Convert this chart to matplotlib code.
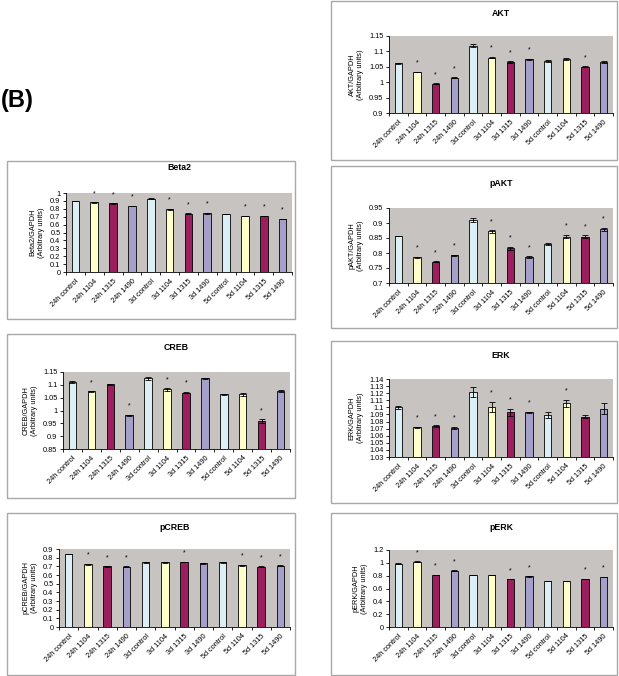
import matplotlib
matplotlib.use("Agg")
import matplotlib.pyplot as plt
from matplotlib.patches import Rectangle
import numpy as np

plt.rcParams['font.family'] = ['Liberation Sans', 'DejaVu Sans']

categories = ["24h control", "24h 1104", "24h 1315", "24h 1490",
              "3d control", "3d 1104", "3d 1315", "3d 1490",
              "5d control", "5d 1104", "5d 1315", "5d 1490"]

akt_vals = [1.061, 1.033, 0.995, 1.015, 1.119, 1.080, 1.065, 1.074, 1.070, 1.076, 1.050, 1.066]
akt_err = [0.001, 0.001, 0.002, 0.002, 0.004, 0.003, 0.004, 0.002, 0.003, 0.004, 0.002, 0.003]
akt_sig = [0, 1, 1, 1, 0, 1, 1, 1, 0, 0, 1, 0]

pakt_vals = [0.857, 0.786, 0.771, 0.792, 0.911, 0.872, 0.816, 0.787, 0.830, 0.855, 0.855, 0.880]
pakt_err = [0.001, 0.002, 0.001, 0.002, 0.006, 0.004, 0.005, 0.002, 0.002, 0.006, 0.004, 0.005]
pakt_sig = [0, 1, 1, 1, 0, 1, 1, 1, 0, 1, 1, 1]

erk_vals = [1.100, 1.072, 1.074, 1.071, 1.122, 1.101, 1.093, 1.093, 1.089, 1.106, 1.087, 1.098]
erk_err = [0.002, 0.001, 0.001, 0.002, 0.007, 0.007, 0.005, 0.001, 0.004, 0.005, 0.002, 0.008]
erk_sig = [0, 1, 1, 1, 0, 1, 1, 1, 0, 1, 0, 0]

perk_vals = [0.985, 1.020, 0.810, 0.875, 0.810, 0.810, 0.745, 0.790, 0.720, 0.720, 0.750, 0.780]
perk_err = [0.005, 0.005, 0.005, 0.006, 0.006, 0.004, 0.004, 0.005, 0.004, 0.004, 0.004, 0.006]
perk_sig = [0, 1, 1, 1, 0, 0, 1, 1, 0, 0, 1, 1]

beta2_vals = [0.900, 0.880, 0.870, 0.835, 0.930, 0.795, 0.740, 0.745, 0.735, 0.710, 0.710, 0.670]
beta2_err = [0.005, 0.005, 0.004, 0.005, 0.005, 0.005, 0.005, 0.006, 0.003, 0.004, 0.004, 0.005]
beta2_sig = [0, 1, 1, 1, 0, 1, 1, 1, 0, 1, 1, 1]

creb_vals = [1.110, 1.075, 1.102, 0.981, 1.126, 1.082, 1.070, 1.125, 1.063, 1.063, 0.959, 1.075]
creb_err = [0.003, 0.001, 0.001, 0.003, 0.006, 0.006, 0.003, 0.002, 0.001, 0.005, 0.008, 0.003]
creb_sig = [0, 1, 0, 1, 0, 1, 1, 0, 0, 0, 1, 0]

pcreb_vals = [0.840, 0.725, 0.700, 0.695, 0.745, 0.745, 0.750, 0.735, 0.745, 0.715, 0.695, 0.705]
pcreb_err = [0.003, 0.004, 0.003, 0.006, 0.005, 0.004, 0.005, 0.004, 0.003, 0.006, 0.005, 0.006]
pcreb_sig = [0, 1, 1, 1, 0, 0, 1, 0, 0, 1, 1, 1]

bar_colors = ["#DCEFF4", "#FFFFCC", "#9B1F5E", "#A4A0CA"] * 3

W, H = 619, 676
fig = plt.figure(figsize=(W / 100, H / 100), dpi=100)


def box(l, t, r, b):
    fig.patches.append(Rectangle((l / W, 1 - b / H), (r - l) / W, (b - t) / H,
                                 transform=fig.transFigure, fill=False,
                                 edgecolor="#A8A8A8", linewidth=1.0))


def panel(l, t, r, b, title, title_y, vals, err, sig, ylim, step, ylabel, fmt):
    ax = fig.add_axes([l / W, 1 - b / H, (r - l) / W, (b - t) / H])
    ax.set_facecolor("#C6C3C0")
    x = np.arange(len(categories))
    ax.bar(x, vals, width=0.4, color=bar_colors, edgecolor="black", linewidth=0.6,
           yerr=err, error_kw=dict(ecolor="black", elinewidth=0.6, capsize=2.2, capthick=0.6),
           zorder=2)
    for i, s in enumerate(sig):
        if s:
            ax.annotate("*", xy=(x[i], vals[i] + err[i]), xytext=(0, 5),
                        textcoords="offset pixels", ha="center", va="bottom",
                        fontsize=5)
    ax.set_xlim(-0.5, len(categories) - 0.5)
    ax.set_ylim(*ylim)
    ticks = np.arange(ylim[0], ylim[1] + step / 2, step)
    ax.set_yticks(ticks)
    ax.set_yticklabels([fmt(v) for v in ticks])
    ax.set_xticks(np.arange(-0.5, len(categories), 1), minor=False)
    ax.set_xticklabels([])
    ax.set_xticks(x, minor=True)
    ax.set_xticklabels(categories, minor=True, rotation=45, ha="right",
                       rotation_mode="anchor", fontsize=5.3)
    ax.tick_params(axis="x", which="minor", length=0, pad=4)
    ax.tick_params(axis="x", which="major", length=2.5, width=0.6, direction="out")
    ax.tick_params(axis="y", length=2.5, width=0.6, labelsize=5.3, pad=1.5)
    for sp in ["top", "right"]:
        ax.spines[sp].set_visible(False)
    for sp in ["left", "bottom"]:
        ax.spines[sp].set_linewidth(0.6)
    ax.set_ylabel(ylabel, fontsize=5.3, labelpad=4, linespacing=1.2)
    fig.text((l + r) / 2 / W, 1 - title_y / H, title, ha="center", va="center",
             fontsize=6.3, fontweight="bold")
    return ax


def g(v):
    s = f"{v:.2f}".rstrip("0").rstrip(".")
    return s


# boxes
box(331, 1, 617, 160)
box(331, 166, 617, 328)
box(331, 341, 617, 503)
box(331, 513, 617, 675)
box(7, 161, 295, 319)
box(7, 334, 295, 498)
box(7, 513, 295, 675)

panel(389, 36, 613, 113, "AKT", 13, akt_vals, akt_err, akt_sig, (0.9, 1.15), 0.05,
      "AKT/GAPDH\n(Arbitrary units)", g)
panel(389, 208, 613, 283, "pAKT", 183, pakt_vals, pakt_err, pakt_sig, (0.7, 0.95), 0.05,
      "pAKT/GAPDH\n(Arbitrary units)", g)
panel(389, 379, 613, 457, "ERK", 355, erk_vals, erk_err, erk_sig, (1.03, 1.14), 0.01,
      "ERK/GAPDH\n(Arbitrary units)", g)
panel(389, 550, 613, 627, "pERK", 528, perk_vals, perk_err, perk_sig, (0.0, 1.2), 0.2,
      "pERK/GAPDH\n(Arbitrary units)", lambda v: g(v) if v != 0 else "0")
panel(66, 193, 292, 272, "Beta2", 168, beta2_vals, beta2_err, beta2_sig, (0.0, 1.0), 0.1,
      "Beta2/GAPDH\n(Arbitrary units)", lambda v: g(v) if v != 0 else "0")
panel(63, 372, 290, 449, "CREB", 348, creb_vals, creb_err, creb_sig, (0.85, 1.15), 0.05,
      "CREB/GAPDH\n(Arbitrary units)", g)
panel(59, 549, 290, 627, "pCREB", 527, pcreb_vals, pcreb_err, pcreb_sig, (0.0, 0.9), 0.1,
      "pCREB/GAPDH\n(Arbitrary units)", lambda v: g(v) if v != 0 else "0")

fig.text(17 / W, 1 - 101 / H, "(B)", ha="center", va="center", fontsize=17,
         fontweight="bold")

fig.savefig("out.png", dpi=100)
